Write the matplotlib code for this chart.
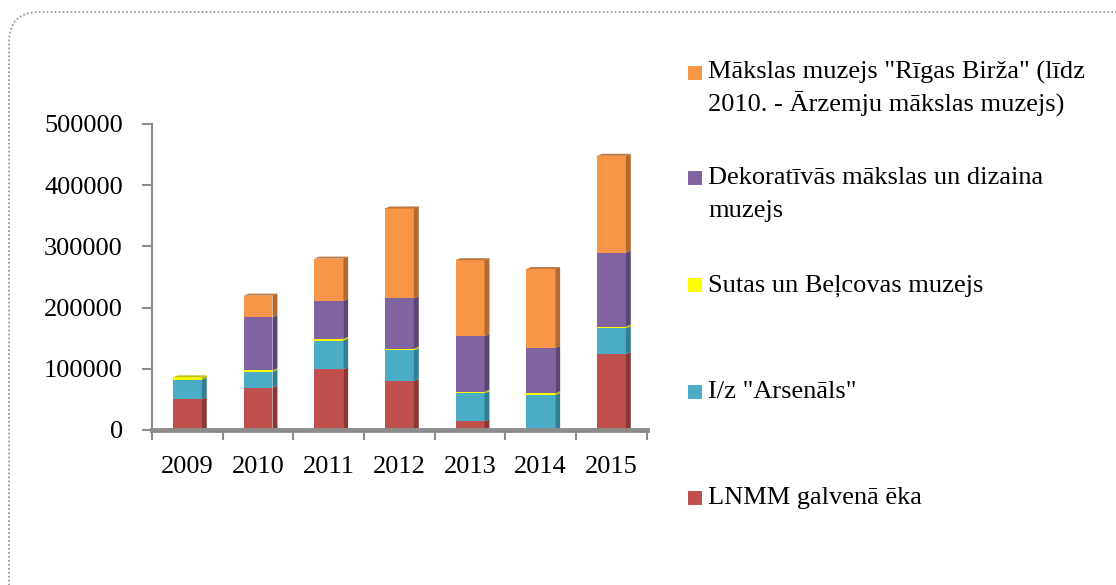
import numpy as np
import matplotlib.pyplot as plt
from matplotlib.patches import Polygon, Rectangle, FancyBboxPatch

plt.rcParams['font.family'] = ['Liberation Serif', 'DejaVu Serif']

years = ['2009', '2010', '2011', '2012', '2013', '2014', '2015']
lnmm = [50000, 69000, 99000, 80000, 14000, 0, 124000]
arsenals = [32000, 26000, 47000, 50000, 46000, 57000, 42000]
sutas = [4000, 2500, 3000, 3000, 2500, 3000, 3000]
dekor = [0, 87000, 62000, 82000, 91000, 74000, 121000]
birza = [0, 35000, 69000, 147000, 124000, 129000, 158000]

series = [lnmm, arsenals, sutas, dekor, birza]
names = ['LNMM galvenā ēka', 'I/z "Arsenāls"', 'Sutas un Beļcovas muzejs',
         'Dekoratīvās mākslas un dizaina\nmuzejs',
         'Mākslas muzejs "Rīgas Birža" (līdz\n2010. - Ārzemju mākslas muzejs)']
front = ['#C0504D', '#4BACC6', '#FFFF00', '#8064A2', '#F79646']
side = ['#8A3735', '#327E92', '#B8B800', '#5A4675', '#B5692E']

fig = plt.figure(figsize=(11.16, 5.85), dpi=100)
ax = fig.add_axes([152 / 1116, 1 - 430 / 585, (646.7 - 152) / 1116, 306 / 585])

x = np.arange(len(years))
w = 0.41
dx, dy = 0.07, 3300
bottom = np.zeros(len(years))
for vals, fc, sc in zip(series, front, side):
    vals = np.array(vals, dtype=float)
    ax.bar(x, vals, w, bottom=bottom, color=fc, edgecolor='none', zorder=3)
    for xi, b, v in zip(x, bottom, vals):
        if v <= 0:
            continue
        r = xi + w / 2
        ax.add_patch(Polygon([(r, b), (r + dx, b + dy), (r + dx, b + v + dy), (r, b + v)],
                             closed=True, fc=sc, ec='none', zorder=3))
    bottom += vals

# top faces
totals = bottom
for xi, t in zip(x, totals):
    k = max(i for i, s in enumerate(series) if s[xi] > 0)
    l = xi - w / 2
    ax.add_patch(Polygon([(l, t), (l + dx, t + dy), (l + w + dx, t + dy), (l + w, t)],
                         closed=True, fc=side[k], ec='none', zorder=3, alpha=0.9))

ax.set_xlim(-0.5, 6.5)
ax.set_ylim(0, 500000)
ax.set_yticks(np.arange(0, 500001, 100000))
ax.set_xticks(x)
ax.set_xticklabels(years)
ax.set_xticks(np.arange(-0.5, 7, 1), minor=True)
ax.tick_params(axis='x', which='major', length=0, pad=19, labelsize=19)
ax.tick_params(axis='x', which='minor', length=7, color='#8c8c8c', width=1.5, direction='out')
ax.tick_params(axis='y', length=7, color='#8c8c8c', width=1.5, labelsize=19, pad=14)
for s in ['top', 'right']:
    ax.spines[s].set_visible(False)
ax.spines['left'].set_color('#8c8c8c')
ax.spines['left'].set_linewidth(1.5)
ax.spines['bottom'].set_color('#8c8c8c')
ax.spines['bottom'].set_linewidth(3.5)
ax.spines['bottom'].set_zorder(4)

# legend
items = list(zip(names, front))[::-1]
ys = [73, 178, 285, 392, 498]
for (name, col), yp in zip(items, ys):
    fig.patches.append(Rectangle((688 / 1116, 1 - (yp + 7) / 585), 14 / 1116, 14 / 585,
                                 transform=fig.transFigure, fc=col, ec='none'))
    for j, line in enumerate(name.split('\n')):
        fig.text(708 / 1116, 1 - (yp + 6 + 33 * j) / 585, line, fontsize=19,
                 va='baseline', ha='left')

# dotted rounded frame
frame = FancyBboxPatch((0.09, -0.5), 11.5, 5.73 + 0.5, boxstyle='round,pad=0,rounding_size=0.3',
                       transform=fig.dpi_scale_trans, fc='none', ec='#9a9a9a',
                       ls=(0, (1, 1.2)), lw=1.3)
fig.patches.append(frame)

fig.savefig('out.png', dpi=100)
